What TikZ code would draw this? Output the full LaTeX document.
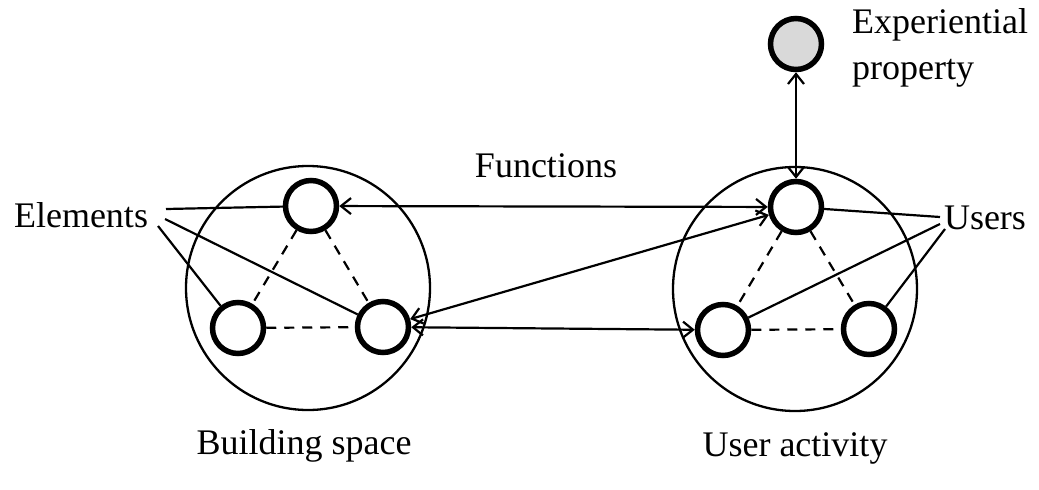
\documentclass[tikz,border=0pt]{standalone}
\usepackage{fontspec}
\setmainfont{Liberation Serif}
\usetikzlibrary{arrows.meta}
\begin{document}
\begin{tikzpicture}[x=1pt,y=-1pt,
  unit/.style={circle,draw,line width=5.5pt,minimum size=51pt,inner sep=0pt,fill=white},
  big/.style={draw,line width=2.3pt},
  thin/.style={line width=2.2pt},
  dashline/.style={line width=2.2pt,dash pattern=on 10pt off 8pt},
  biarrow/.style={line width=2.2pt,{Straight Barb[length=10pt,width=16pt]}-{Straight Barb[length=10pt,width=16pt]}},
  lab/.style={font=\fontsize{36}{46}\selectfont,inner sep=0pt}]
\useasboundingbox (0,0) rectangle (1039,490);
\draw[big] (308,288) circle[radius=122];
\draw[big] (795,289) circle[radius=122];
\node[unit] (lt) at (311,206) {};
\node[unit] (ll) at (238,328) {};
\node[unit] (lr) at (383,327) {};
\node[unit] (rt) at (796,207) {};
\node[unit] (rl) at (723,330) {};
\node[unit] (rr) at (869,329) {};
\node[unit,fill=black!15] (ex) at (796,44) {};
\draw[dashline] (lt) -- (ll);
\draw[dashline] (lt) -- (lr);
\draw[dashline] (ll) -- (lr);
\draw[dashline] (rt) -- (rl);
\draw[dashline] (rt) -- (rr);
\draw[dashline] (rl) -- (rr);
\draw[biarrow] (lt) -- (rt);
\draw[biarrow] (lr) -- (rt);
\draw[biarrow] (lr) -- (rl);
\draw[biarrow] (ex) -- (rt);
\node[lab] (elem) at (81,215) {Elements};
\node[lab] (users) at (985,218) {Users};
\node[lab] (func) at (546,166) {Functions};
\node[lab] (bs) at (304,446) {Building space};
\node[lab] (ua) at (795,448) {User activity};
\node[lab,anchor=west,align=left] (exl) at (852,48) {Experiential\\property};
\coordinate (e1) at (166,209);
\coordinate (e2) at (165,219);
\coordinate (e3) at (158,226);
\coordinate (u1) at (940,217);
\coordinate (u2) at (940,224);
\coordinate (u3) at (945,229);
\draw[thin] (e1) -- (lt);
\draw[thin] (e2) -- (lr);
\draw[thin] (e3) -- (ll);
\draw[thin] (u1) -- (rt);
\draw[thin] (u2) -- (rl);
\draw[thin] (u3) -- (rr);
\end{tikzpicture}
\end{document}
